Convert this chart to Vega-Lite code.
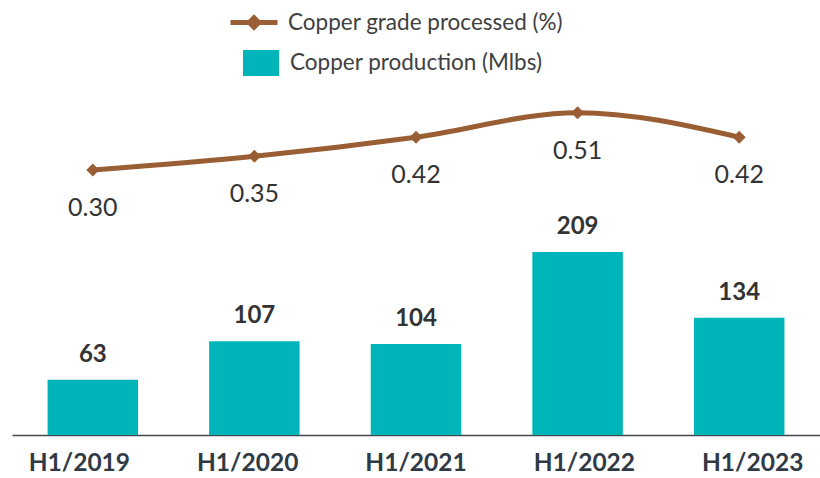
{
  "$schema": "https://vega.github.io/schema/vega-lite/v6.json",
  "width": 808,
  "height": 345,
  "autosize": "none",
  "padding": {"left": 12, "top": 90, "right": 0, "bottom": 43},
  "background": "white",
  "config": {
    "view": {"stroke": null},
    "font": "Lato",
    "legend": {"padding": 0, "labelFont": "Lato", "labelFontSize": 22.5, "labelColor": "#404040", "labelLimit": 400}
  },
  "data": {
    "values": [
      {"period": "H1/2019", "production": 63, "grade": 0.30},
      {"period": "H1/2020", "production": 107, "grade": 0.35},
      {"period": "H1/2021", "production": 104, "grade": 0.42},
      {"period": "H1/2022", "production": 209, "grade": 0.51},
      {"period": "H1/2023", "production": 134, "grade": 0.42}
    ]
  },
  "layer": [
    {
      "encoding": {
        "x": {
          "field": "period",
          "type": "nominal",
          "sort": null,
          "scale": {"paddingInner": 0.44, "paddingOuter": 0.22},
          "axis": {
            "title": null,
            "labels": false,
            "ticks": false,
            "domainColor": "#404850",
            "domainWidth": 1.5,
            "grid": false
          }
        },
        "y": {"field": "production", "type": "quantitative", "scale": {"domain": [0, 394]}, "axis": null}
      },
      "layer": [
        {
          "mark": {"type": "bar", "color": "#00b5b9"},
          "encoding": {
            "fill": {
              "datum": "Copper production (Mlbs)",
              "type": "nominal",
              "scale": {"range": ["#00b5b9"]},
              "legend": {
                "title": null,
                "orient": "none",
                "legendX": 231,
                "legendY": -45,
                "symbolType": "M-1,-0.72H1V0.72H-1Z",
                "symbolSize": 1296,
                "symbolStrokeWidth": 0,
                "labelOffset": 11
              }
            }
          }
        },
        {
          "mark": {"type": "text", "dy": -25, "fontSize": 24, "fontWeight": "bold", "color": "#333333", "font": "Lato"},
          "encoding": {
            "text": {"field": "production", "type": "quantitative"}
          }
        }
      ]
    },
    {
      "encoding": {
        "x": {
          "field": "period",
          "type": "nominal",
          "sort": null,
          "scale": {"paddingInner": 0.44, "paddingOuter": 0.22},
          "axis": null
        },
        "y": {"field": "grade", "type": "quantitative", "scale": {"domain": [-0.671, 0.593]}, "axis": null}
      },
      "layer": [
        {
          "mark": {"type": "line", "interpolate": "monotone", "strokeWidth": 5, "color": "#9a5e34"},
          "encoding": {
            "stroke": {
              "datum": "Copper grade processed (%)",
              "type": "nominal",
              "scale": {"range": ["#9a5e34"]},
              "legend": {
                "title": null,
                "orient": "none",
                "legendX": 216,
                "legendY": -93.5,
                "symbolType": "M-1,0H1M0,-0.2L0.2,0L0,0.2L-0.2,0Z",
                "symbolSize": 2209,
                "symbolStrokeWidth": 5,
                "symbolFillColor": "#9a5e34",
                "labelOffset": 8
              }
            }
          }
        },
        {
          "mark": {"type": "point", "shape": "diamond", "filled": true, "size": 170, "color": "#9a5e34", "opacity": 1}
        },
        {
          "mark": {"type": "text", "dy": 38, "fontSize": 25, "color": "#333333", "font": "Lato"},
          "encoding": {
            "text": {"field": "grade", "type": "quantitative", "format": ".2f"}
          }
        }
      ]
    },
    {
      "mark": {"type": "text", "baseline": "top", "dy": 17, "fontSize": 24.5, "fontWeight": "bold", "color": "#2f3a45", "font": "Lato"},
      "encoding": {
        "x": {
          "field": "period",
          "type": "nominal",
          "sort": null,
          "scale": {"type": "point", "padding": 0.4},
          "axis": null
        },
        "y": {"datum": 0, "type": "quantitative", "scale": {"domain": [0, 1]}, "axis": null},
        "text": {"field": "period", "type": "nominal"}
      }
    }
  ],
  "resolve": {"scale": {"x": "independent", "y": "independent"}}
}
